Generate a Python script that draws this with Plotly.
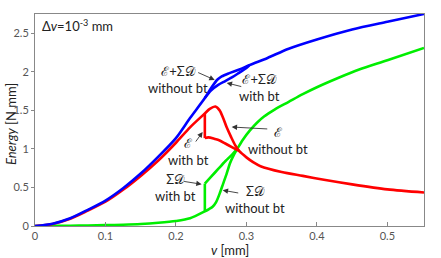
import plotly.graph_objects as go

# ---- data ----
# common loading branch (before the break at v = 0.241 mm)
v_pre = [0, 0.025, 0.05, 0.075, 0.1, 0.125, 0.15, 0.175, 0.2, 0.22, 0.241]
E_pre = [0, 0.027, 0.094, 0.20, 0.315, 0.47, 0.65, 0.85, 1.08, 1.28, 1.46]
D_pre = [0, 0.002, 0.004, 0.007, 0.011, 0.017, 0.026, 0.042, 0.065, 0.10, 0.19]
S_pre = [0, 0.03, 0.10, 0.21, 0.33, 0.49, 0.68, 0.90, 1.14, 1.40, 1.66]

# without bt
v_E_wo = [0.241, 0.248, 0.256, 0.262, 0.267, 0.272, 0.278, 0.284, 0.29, 0.3, 0.31, 0.32,
          0.35, 0.38, 0.41, 0.45, 0.5, 0.552]
E_wo = [1.46, 1.52, 1.55, 1.50, 1.40, 1.28, 1.16, 1.05, 0.97, 0.89, 0.825, 0.775,
        0.70, 0.65, 0.60, 0.54, 0.475, 0.435]
v_D_wo = [0.241, 0.247, 0.252, 0.257, 0.262, 0.267, 0.272, 0.277, 0.282, 0.287, 0.295,
          0.305, 0.315, 0.325, 0.34, 0.36, 0.38, 0.4, 0.43, 0.46, 0.5, 0.552]
D_wo = [0.19, 0.22, 0.25, 0.31, 0.42, 0.55, 0.68, 0.82, 0.92, 1.0, 1.12,
        1.24, 1.34, 1.42, 1.51, 1.61, 1.71, 1.80, 1.92, 2.03, 2.15, 2.31]
v_S_wo = [0.241, 0.25, 0.259, 0.265, 0.275, 0.29, 0.305, 0.33, 0.36, 0.4, 0.45, 0.5, 0.552]
S_wo = [1.66, 1.79, 1.90, 1.94, 1.98, 2.03, 2.09, 2.18, 2.30, 2.42, 2.55, 2.65, 2.75]

# with bt (brittle jump at v = 0.241 mm)
v_jump = [0.241, 0.241]
E_jump = [1.46, 1.14]
D_jump = [0.19, 0.55]
v_E_w = [0.241, 0.246, 0.255, 0.262, 0.27, 0.28, 0.29]
E_w = [1.14, 1.15, 1.13, 1.11, 1.07, 1.02, 0.97]
v_D_w = [0.241, 0.25, 0.26, 0.27, 0.28, 0.287]
D_w = [0.55, 0.64, 0.74, 0.84, 0.93, 1.0]
v_S_w = [0.241, 0.25, 0.26, 0.27, 0.28, 0.29, 0.3, 0.305]
S_w = [1.66, 1.76, 1.83, 1.88, 1.93, 1.99, 2.05, 2.09]

x_ticks = [0, 0.1, 0.2, 0.3, 0.4, 0.5]
y_ticks = [0, 0.5, 1, 1.5, 2, 2.5]

RED, GREEN, BLUE = "#ff0000", "#00ee00", "#0000ff"
LW = 2.6
FONT = "Lato"

fig = go.Figure()


def add(x, y, color, shape="spline"):
    fig.add_trace(go.Scatter(x=x, y=y, mode="lines",
                             line=dict(color=color, width=LW, shape=shape, smoothing=0.8),
                             showlegend=False, hoverinfo="skip"))


add(v_pre + v_D_wo[1:], D_pre + D_wo[1:], GREEN)
add(v_jump, D_jump, GREEN, "linear")
add(v_D_w, D_w, GREEN)
add(v_pre + v_E_wo[1:], E_pre + E_wo[1:], RED)
add(v_jump, E_jump, RED, "linear")
add(v_E_w, E_w, RED)
add(v_pre + v_S_wo[1:], S_pre + S_wo[1:], BLUE)
add(v_S_w, S_w, BLUE)

# ---- annotations ----
SE = "\u2130"      # script E
SD = "\U0001D49F"  # script D
labels = [
    (f"{SE}+\u03a3{SD}<br>without bt", 0.2024, 1.895),
    (f"{SE}+\u03a3{SD}<br>with bt", 0.3189, 1.80),
    (f"{SE}<br>with bt", 0.218, 0.96),
    (f"{SE}<br>without bt", 0.3445, 1.115),
    (f"\u03a3{SD}<br>with bt", 0.1996, 0.50),
    (f"\u03a3{SD}<br>without bt", 0.3118, 0.345),
]
for txt, x, y in labels:
    fig.add_annotation(x=x, y=y, text=txt, showarrow=False, xref="x", yref="y",
                       font=dict(family=FONT, size=13, color="#222"), align="center")

# arrows: (tail v, tail E, tip v, tip E)
arrows = [
    (0.2294, 1.999, 0.2550, 1.895),
    (0.2948, 1.804, 0.2720, 1.856),
    (0.2266, 1.076, 0.2379, 1.219),
    (0.3317, 1.258, 0.2791, 1.284),
    (0.2095, 0.581, 0.2365, 0.542),
    (0.2905, 0.425, 0.2663, 0.464),
]
for ax, ay, x, y in arrows:
    fig.add_annotation(x=x, y=y, ax=ax, ay=ay, xref="x", yref="y", axref="x", ayref="y",
                       text="", showarrow=True, arrowhead=2, arrowsize=1.2,
                       arrowwidth=0.9, arrowcolor="#333")

fig.add_annotation(xref="paper", yref="paper", x=0.012, y=0.995, xanchor="left", yanchor="top",
                   text="\u0394<i>v</i>=10<sup>-3</sup> mm", showarrow=False,
                   font=dict(family=FONT, size=13, color="#222"))
fig.add_annotation(xref="paper", yref="paper", x=0.5, y=-0.112, xanchor="center", yanchor="middle",
                   text="<i>v</i> [mm]", showarrow=False,
                   font=dict(family=FONT, size=13, color="#222"))
fig.add_annotation(xref="paper", yref="paper", x=-0.062, y=0.48, xanchor="center", yanchor="middle",
                   text="<i>Energy</i> [N mm]", showarrow=False, textangle=-90,
                   font=dict(family=FONT, size=13, color="#222"))

fig.update_layout(
    width=441, height=258,
    margin=dict(l=35, r=17, t=14, b=32),
    paper_bgcolor="white", plot_bgcolor="white",
    font=dict(family=FONT, size=11, color="#555"),
)
fig.update_xaxes(range=[0, 0.552], tickvals=x_ticks, ticktext=[str(t) for t in x_ticks],
                 ticks="inside", ticklen=4, tickcolor="#888", showgrid=False, zeroline=False,
                 showline=True, linecolor="#888", linewidth=1, mirror=True)
fig.update_yaxes(range=[0, 2.75], tickvals=y_ticks, ticktext=[str(t) for t in y_ticks],
                 ticks="outside", ticklen=3, tickcolor="#888", showgrid=False, zeroline=False,
                 showline=True, linecolor="#888", linewidth=1, mirror=True)

fig.write_html("out.html", config={"displayModeBar": False},
               post_script="document.body.style.margin='0';")
